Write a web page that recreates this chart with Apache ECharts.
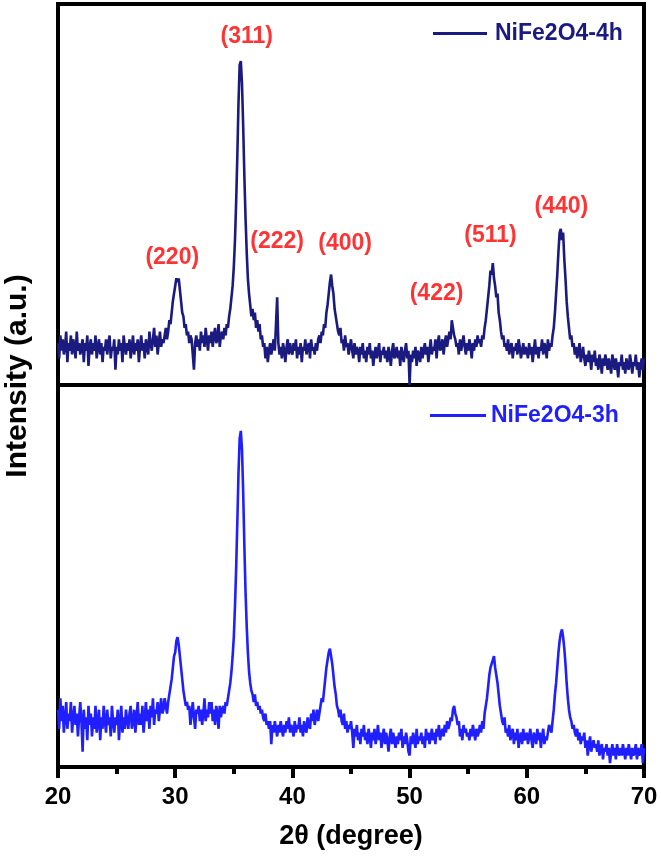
<!DOCTYPE html>
<html><head><meta charset="utf-8">
<script src="https://cdn.jsdelivr.net/npm/echarts@6/dist/echarts.min.js"></script>
<style>html,body{margin:0;padding:0;background:#fff}#c{width:661px;height:859px}</style>
</head><body><div id="c"></div><script>
// sampling grid of the diffractograms (degrees 2θ)
const startAngle = 20, stepAngle = 0.1;

// NiFe2O4-4h intensities (a.u., top panel), one value per 0.1° from 20° to 70° (one row = 1°)
const intensity4h = [
  11, 7, 13, 9, 12, 8, 10, 14, 6, 11,
  9, 13, 8, 12, 10, 7, 14, 9, 11, 8,
  10, 12, 6, 11, 9, 13, 5, 10, 12, 8,
  11, 9, 13, 7, 10, 12, 8, 11, 6, 10,
  9, 12, 8, 11, 13, 7, 10, 9, 12, 4,
  10, 8, 12, 9, 11, 6, 13, 10, 8, 11,
  9, 12, 7, 10, 13, 8, 11, 9, 12, 6,
  10, 13, 9, 11, 7, 12, 10, 8, 14, 11,
  9, 12, 15, 10, 13, 8, 11, 14, 10, 12,
  11, 13, 15, 12, 14, 17, 16, 19, 22, 24,
  26, 28, 27, 28, 25, 22, 19, 18, 15, 16,
  13, 14, 11, 13, 12, 8, 4, 11, 13, 10,
  12, 9, 14, 11, 13, 10, 15, 12, 9, 13,
  11, 14, 10, 13, 15, 11, 12, 16, 10, 13,
  14, 12, 15, 13, 16, 15, 18, 20, 23, 26,
  31, 38, 48, 60, 74, 84, 85, 79, 68, 55,
  44, 35, 28, 24, 21, 18, 20, 17, 19, 15,
  17, 14, 16, 12, 13, 10, 11, 7, 10, 6,
  9, 11, 8, 10, 12, 9, 16, 23, 11, 8,
  10, 7, 11, 9, 6, 10, 12, 8, 11, 9,
  8, 11, 9, 12, 7, 10, 8, 11, 6, 10,
  9, 12, 8, 10, 11, 7, 12, 9, 10, 8,
  11, 9, 12, 13, 11, 14, 13, 16, 15, 19,
  21, 24, 27, 29, 26, 24, 20, 18, 16, 14,
  13, 15, 11, 12, 9, 13, 10, 11, 8, 10,
  12, 9, 7, 11, 8, 10, 9, 6, 10, 8,
  11, 7, 9, 6, 10, 8, 11, 7, 9, 5,
  8, 10, 7, 9, 11, 6, 9, 8, 10, 7,
  9, 6, 10, 8, 5, 9, 11, 7, 8, 10,
  7, 9, 5, 10, 8, 6, 9, 11, 7, 9,
  0, 8, 6, 9, 7, 10, 5, 9, 8, 6,
  10, 7, 9, 11, 8, 10, 6, 9, 12, 8,
  10, 9, 12, 7, 11, 13, 9, 10, 12, 8,
  11, 13, 10, 12, 14, 12, 17, 15, 13, 12,
  10, 11, 8, 12, 9, 11, 13, 10, 8, 11,
  9, 12, 10, 7, 11, 9, 12, 10, 13, 11,
  12, 10, 13, 12, 15, 17, 20, 23, 26, 30,
  29, 32, 28, 26, 23, 24, 19, 17, 14, 12,
  13, 10, 11, 9, 12, 8, 10, 11, 7, 10,
  9, 11, 8, 12, 10, 7, 9, 11, 8, 10,
  9, 7, 11, 8, 10, 6, 9, 12, 8, 10,
  7, 10, 9, 12, 8, 11, 10, 7, 12, 9,
  11, 10, 13, 15, 19, 24, 29, 35, 40, 41,
  38, 40, 33, 28, 22, 18, 15, 12, 13, 10,
  11, 8, 10, 7, 9, 11, 6, 8, 10, 7,
  5, 8, 6, 9, 7, 4, 8, 6, 9, 5,
  7, 4, 8, 6, 3, 7, 5, 8, 6, 4,
  7, 5, 3, 8, 6, 4, 7, 5, 2, 6,
  5, 8, 4, 6, 3, 7, 5, 4, 8, 6,
  3, 6, 5, 8, 4, 6, 2, 5, 7, 4,
  7
];

// NiFe2O4-3h intensities (a.u., bottom panel), same sampling
const intensity3h = [
  15, 10, 18, 12, 16, 9, 13, 17, 10, 14,
  12, 17, 9, 13, 16, 11, 14, 8, 13, 17,
  12, 4, 15, 10, 13, 7, 16, 11, 14, 8,
  13, 10, 16, 9, 12, 15, 7, 13, 10, 16,
  12, 9, 15, 11, 13, 8, 16, 12, 9, 13,
  11, 15, 7, 12, 16, 9, 13, 10, 15, 12,
  10, 14, 16, 10, 12, 15, 9, 13, 17, 11,
  14, 11, 16, 9, 13, 17, 12, 15, 10, 16,
  13, 18, 11, 15, 14, 17, 12, 15, 18, 14,
  15, 18, 16, 14, 17, 19, 21, 23, 26, 29,
  30, 33, 34, 32, 29, 26, 23, 20, 18, 16,
  17, 15, 16, 11, 14, 17, 13, 10, 15, 14,
  16, 12, 15, 11, 14, 18, 12, 15, 13, 17,
  14, 17, 12, 15, 11, 16, 14, 10, 16, 13,
  15, 16, 14, 17, 16, 18, 20, 22, 25, 29,
  34, 42, 52, 64, 77, 86, 88, 83, 72, 58,
  46, 37, 30, 25, 22, 20, 19, 17, 19, 16,
  17, 15, 16, 14, 15, 13, 12, 14, 11, 12,
  10, 12, 6, 11, 9, 12, 10, 8, 11, 9,
  12, 10, 8, 11, 9, 12, 10, 13, 9, 11,
  10, 8, 12, 9, 11, 10, 13, 9, 11, 8,
  12, 10, 9, 13, 11, 10, 14, 12, 15, 11,
  13, 15, 12, 14, 16, 18, 17, 20, 23, 26,
  28, 30, 31, 29, 27, 24, 21, 19, 16, 15,
  13, 15, 12, 11, 14, 10, 12, 9, 11, 10,
  12, 9, 5, 10, 8, 11, 7, 9, 6, 10,
  8, 11, 7, 9, 6, 10, 8, 5, 9, 7,
  10, 6, 8, 11, 7, 9, 5, 8, 10, 6,
  9, 7, 4, 8, 10, 6, 9, 7, 5, 8,
  6, 9, 7, 10, 5, 8, 6, 9, 7, 4,
  3, 8, 6, 9, 7, 5, 10, 6, 8, 7,
  9, 6, 8, 5, 10, 7, 9, 6, 8, 10,
  7, 9, 6, 10, 8, 11, 7, 9, 10, 8,
  11, 9, 12, 10, 11, 13, 12, 15, 16, 14,
  13, 11, 12, 8, 10, 7, 11, 9, 10, 8,
  9, 7, 10, 8, 11, 9, 7, 10, 8, 9,
  11, 9, 12, 10, 14, 16, 18, 21, 24, 26,
  27, 28, 29, 26, 24, 22, 19, 16, 14, 12,
  11, 13, 9, 10, 8, 11, 7, 9, 10, 6,
  9, 7, 10, 5, 8, 9, 6, 10, 7, 8,
  9, 6, 8, 10, 7, 5, 9, 8, 6, 10,
  7, 9, 5, 8, 10, 6, 8, 7, 9, 11,
  10, 9, 12, 15, 19, 22, 26, 30, 33, 35,
  36, 34, 31, 27, 22, 18, 15, 13, 12, 10,
  11, 9, 8, 10, 7, 9, 6, 8, 7, 9,
  5, 7, 3, 6, 8, 4, 6, 7, 5, 6,
  4, 7, 3, 5, 6, 2, 5, 4, 6, 3,
  5, 1, 4, 6, 3, 5, 2, 6, 4, 3,
  5, 3, 6, 4, 2, 5, 3, 6, 4, 2,
  5, 3, 4, 6, 2, 5, 3, 4, 6, 1,
  5
];

// Miller-index annotations (top panel)
const peakLabels = ['(220)', '(311)', '(222)', '(400)', '(422)', '(511)', '(440)'];
const peakLabelAngle = [29.75, 36.1, 38.7, 44.5, 52.3, 56.9, 62.95];
const peakLabelHeight = [33.5, 91.5, 37.7, 37.2, 24, 39.2, 46.8];

const seriesNames = ['NiFe2O4-4h', 'NiFe2O4-3h'];
const xMin = 20, xMax = 70, xStep = 10;

function toPairs(arr) {
  return arr.map((v, i) => [+(startAngle + i * stepAngle).toFixed(1), v]);
}

const FONT = 'Liberation Sans, Arial, sans-serif';
const navy = '#1a1a80', blue = '#1f1fff';

const chart = echarts.init(document.getElementById('c'), null, {renderer: 'canvas'});
chart.setOption({
  animation: false,
  backgroundColor: '#fff',
  grid: [
    {left: 58, right: 17, top: 4, height: 381, show: true, borderColor: '#000', borderWidth: 4, backgroundColor: 'transparent'},
    {left: 58, right: 17, top: 385, height: 382, show: true, borderColor: '#000', borderWidth: 4, backgroundColor: 'transparent'}
  ],
  xAxis: [
    {type: 'value', gridIndex: 0, min: xMin, max: xMax, interval: xStep,
     axisLine: {show: false}, axisTick: {show: false}, axisLabel: {show: false}, splitLine: {show: false}},
    {type: 'value', gridIndex: 1, min: xMin, max: xMax, interval: xStep,
     axisLine: {show: true, lineStyle: {color: '#000', width: 4}},
     axisTick: {show: true, inside: false, length: 11, lineStyle: {color: '#000', width: 4}},
     minorTick: {show: true, splitNumber: 2, length: 7, lineStyle: {color: '#000', width: 4}},
     axisLabel: {color: '#000', fontSize: 24, fontWeight: 'bold', fontFamily: FONT, margin: 18},
     splitLine: {show: false},
     name: '2θ (degree)', nameLocation: 'middle', nameGap: 56,
     nameTextStyle: {color: '#000', fontSize: 27, fontWeight: 'bold', fontFamily: FONT}}
  ],
  yAxis: [
    {type: 'value', gridIndex: 0, min: 0, max: 100, show: false},
    {type: 'value', gridIndex: 1, min: 0, max: 100, show: false}
  ],
  legend: [
    {data: [seriesNames[0]], left: 428, top: 17, icon: 'rect', itemWidth: 54, itemHeight: 3,
     textStyle: {color: navy, fontSize: 23, fontWeight: 'bold', fontFamily: FONT, padding: [0, 0, 0, 3]}},
    {data: [seriesNames[1]], left: 425, top: 399, icon: 'rect', itemWidth: 56, itemHeight: 3,
     textStyle: {color: blue, fontSize: 23, fontWeight: 'bold', fontFamily: FONT, padding: [0, 0, 0, 0]}}
  ],
  graphic: [
    {type: 'text', x: 18, y: 376, rotation: Math.PI / 2,
     style: {text: 'Intensity (a.u.)', fill: '#000', font: 'bold 30px ' + FONT, textAlign: 'center', textVerticalAlign: 'middle'}}
  ],
  series: [
    {name: seriesNames[0], type: 'line', xAxisIndex: 0, yAxisIndex: 0, data: toPairs(intensity4h),
     showSymbol: false, symbol: 'none', lineStyle: {color: navy, width: 2.6}, itemStyle: {color: navy}, z: 3},
    {name: seriesNames[1], type: 'line', xAxisIndex: 1, yAxisIndex: 1, data: toPairs(intensity3h),
     showSymbol: false, symbol: 'none', lineStyle: {color: blue, width: 2.6}, itemStyle: {color: blue}, z: 3},
    {type: 'scatter', xAxisIndex: 0, yAxisIndex: 0, symbolSize: 0, silent: true,
     data: peakLabels.map((t, i) => ({name: t, value: [peakLabelAngle[i], peakLabelHeight[i]]})),
     label: {show: true, position: 'inside', formatter: '{b}', color: '#ff0000', fontSize: 23, fontWeight: 'bold', fontFamily: FONT}}
  ]
});
</script></body></html>
